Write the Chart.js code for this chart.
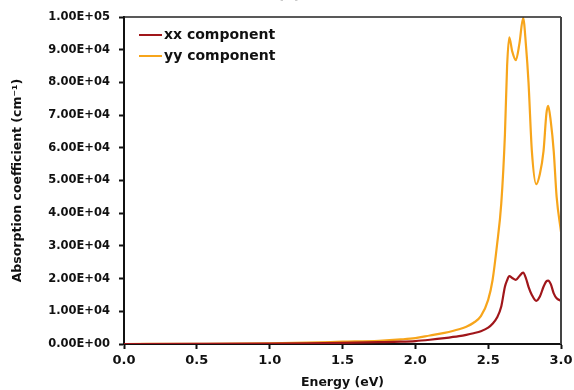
<!DOCTYPE html>
<html>
<head>
<meta charset="utf-8">
<script src="https://cdn.jsdelivr.net/npm/chart.js@4.4.0/dist/chart.umd.min.js"></script>
<style>
  html, body { margin: 0; padding: 0; background: #fff; }
  #wrap { width: 574px; height: 390px; position: relative; }
</style>
</head>
<body>
<div id="wrap"><canvas id="absChart"></canvas></div>
<script>
// energia (eV) y coeficiente de absorcion (cm^-1)
const energia = [0, 0.5, 1.0, 1.25, 1.5, 1.75, 1.9, 2.0, 2.1, 2.2, 2.3, 2.35, 2.4, 2.45, 2.5,
    2.53, 2.56, 2.59, 2.615, 2.63, 2.645, 2.665, 2.69, 2.715, 2.74, 2.76, 2.777, 2.8, 2.83,
    2.855, 2.88, 2.9, 2.912, 2.93, 2.95, 2.97, 3.0];
const xxComp = [0, 20, 100, 200, 350, 550, 700, 900, 1300, 1800, 2400, 2800, 3300, 3900, 5000,
    6200, 8000, 11500, 17500, 19500, 20800, 20200, 19600, 20800, 21800, 20000, 17500, 15000, 13200,
    14500, 17500, 19200, 19400, 18300, 15500, 14000, 13200];
const yyComp = [0, 50, 200, 400, 700, 1000, 1400, 1800, 2600, 3400, 4500, 5300, 6500, 8500, 13500,
    19500, 30000, 43000, 64000, 85000, 93800, 89500, 86800, 92000, 99700, 91000, 80000, 59000, 48900,
    52000, 59000, 70500, 72800, 68000, 59000, 45000, 34300];
const etiquetas = ['xx component', 'yy component'];
const colores = ['#a0161a', '#f7a51b'];
const xTicks = [0, 0.5, 1.0, 1.5, 2.0, 2.5, 3.0];

const fuente = "'DejaVu Sans', Verdana, sans-serif";

function puntos(ys) {
    return energia.map((e, i) => ({ x: e, y: ys[i] }));
}

function formatoE(v) {
    if (v === 0) return '0.00E+00';
    const exp = Math.floor(Math.log10(Math.abs(v)) + 1e-9);
    const man = v / Math.pow(10, exp);
    return man.toFixed(2) + 'E' + (exp < 0 ? '-' : '+') + String(Math.abs(exp)).padStart(2, '0');
}

// leyenda dentro del area y marco del grafico
const extras = {
    id: 'extras',
    afterDraw(chart) {
        const ctx = chart.ctx;
        const a = chart.chartArea;
        ctx.save();
        ctx.strokeStyle = '#222';
        ctx.lineWidth = 1.5;
        ctx.beginPath();
        ctx.moveTo(a.left, a.top);
        ctx.lineTo(a.right, a.top);
        ctx.stroke();
        ctx.strokeStyle = '#444';
        ctx.lineWidth = 2;
        ctx.beginPath();
        ctx.moveTo(a.right, a.top);
        ctx.lineTo(a.right, a.bottom);
        ctx.stroke();

        ctx.font = 'bold 14px ' + fuente;
        ctx.textBaseline = 'middle';
        chart.data.datasets.forEach((ds, i) => {
            const y = a.top + 18 + i * 21;
            ctx.strokeStyle = ds.borderColor;
            ctx.lineWidth = 2;
            ctx.beginPath();
            ctx.moveTo(a.left + 15, y);
            ctx.lineTo(a.left + 38, y);
            ctx.stroke();
            ctx.fillStyle = '#111';
            ctx.fillText(ds.label, a.left + 40, y);
        });

        // titulo cortado arriba
        ctx.font = 'bold 16px ' + fuente;
        ctx.textAlign = 'center';
        ctx.textBaseline = 'alphabetic';
        ctx.fillStyle = '#333';
        ctx.fillText('(c)', 289, -2);
        ctx.restore();
    }
};

const absChart = new Chart(document.getElementById('absChart').getContext('2d'), {
    type: 'line',
    data: {
        datasets: [
            { label: etiquetas[0], data: puntos(xxComp), borderColor: colores[0], borderWidth: 2.2,
              pointRadius: 0, tension: 0.4, cubicInterpolationMode: 'monotone', fill: false },
            { label: etiquetas[1], data: puntos(yyComp), borderColor: colores[1], borderWidth: 2.2,
              pointRadius: 0, tension: 0.4, cubicInterpolationMode: 'monotone', fill: false }
        ]
    },
    options: {
        responsive: true,
        maintainAspectRatio: false,
        animation: false,
        layout: { padding: { top: 17, right: 13, left: 0, bottom: 0 } },
        plugins: { legend: { display: false }, tooltip: { enabled: false } },
        scales: {
            x: {
                type: 'linear',
                min: 0, max: 3,
                afterBuildTicks: (s) => { s.ticks = xTicks.map(v => ({ value: v })); },
                afterFit: (s) => { s.height = 46; s.paddingRight = 0; s.paddingLeft = 0; },
                border: { color: '#111', width: 2 },
                grid: { drawOnChartArea: false, tickLength: 5, color: '#111', tickWidth: 2 },
                ticks: {
                    color: '#111', padding: 4,
                    font: { family: fuente, weight: 'bold', size: 13 },
                    callback: (v) => Number(v).toFixed(1)
                },
                title: {
                    display: true, text: 'Energy (eV)', color: '#111', padding: { top: 0, bottom: 0 },
                    font: { family: fuente, weight: 'bold', size: 12.5 }
                }
            },
            y: {
                min: 0, max: 100000,
                afterFit: (s) => { s.width = 124; },
                border: { color: '#111', width: 2 },
                grid: { drawOnChartArea: false, tickLength: 5, color: '#111', tickWidth: 2 },
                ticks: {
                    stepSize: 10000, color: '#111', padding: 9,
                    font: { family: fuente, weight: 'bold', size: 11.5 },
                    callback: (v) => formatoE(v)
                },
                title: {
                    display: true, text: 'Absorption coefficient (cm\u207B\u00B9)', color: '#111',
                    padding: { top: 10, bottom: 0 },
                    font: { family: fuente, weight: 'bold', size: 12.5 }
                }
            }
        }
    },
    plugins: [extras]
});
</script>
</body>
</html>
